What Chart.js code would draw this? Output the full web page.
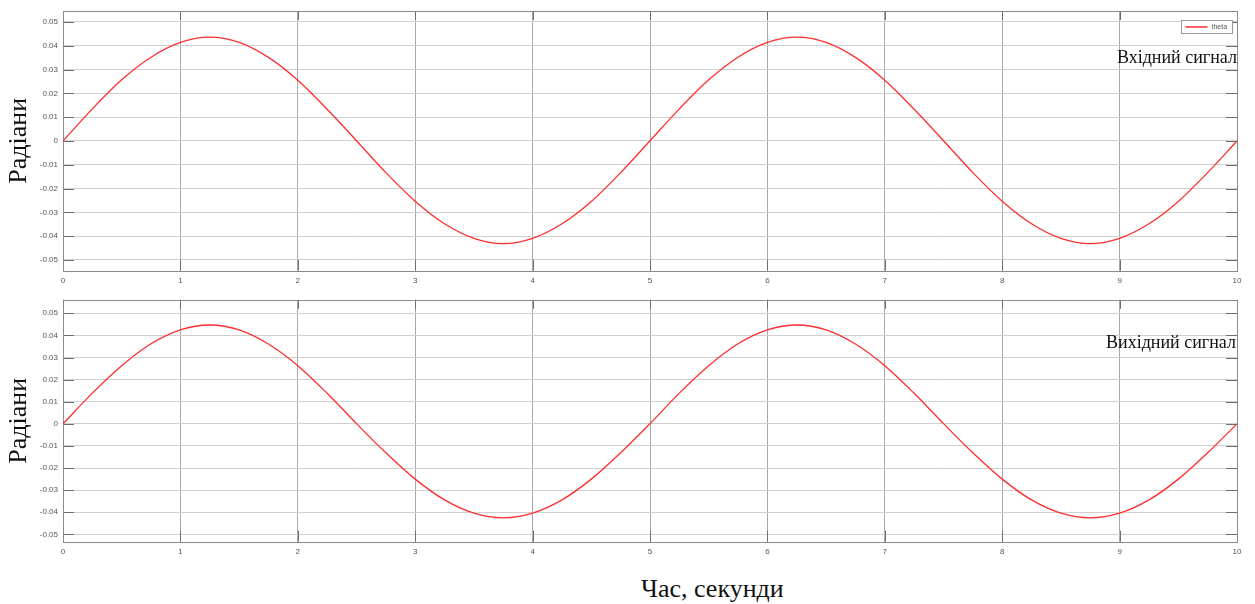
<!DOCTYPE html>
<html>
<head>
<meta charset="utf-8">
<script src="https://cdn.jsdelivr.net/npm/chart.js@4/dist/chart.umd.min.js"></script>
<style>
  body { margin: 0; background: #fff; }
  #wrap { position: relative; width: 1255px; height: 604px; overflow: hidden; background: #fff; }
  canvas { position: absolute; left: 0; }
  .note { position: absolute; font-family: "Liberation Serif", serif; color: #111; white-space: nowrap; }
</style>
</head>
<body>
<div id="wrap">
  <canvas id="topChart" width="1255" height="290" style="top:0;width:1255px;height:290px"></canvas>
  <canvas id="bottomChart" width="1255" height="272" style="top:290px;width:1255px;height:272px"></canvas>
  <div class="note" style="right:18px;top:47px;font-size:18px;line-height:20px">Вхідний сигнал</div>
  <div class="note" style="right:19px;top:332px;font-size:18px;line-height:20px">Вихідний сигнал</div>
  <div class="note" style="left:641px;top:574px;font-size:26px;line-height:30px">Час, секунди</div>
</div>
<script>
// час, с
const times = [0, 0.25, 0.5, 0.75, 1, 1.25, 1.5, 1.75, 2, 2.25, 2.5, 2.75, 3, 3.25, 3.5, 3.75, 4, 4.25, 4.5, 4.75,
    5, 5.25, 5.5, 5.75, 6, 6.25, 6.5, 6.75, 7, 7.25, 7.5, 7.75, 8, 8.25, 8.5, 8.75, 9, 9.25, 9.5, 9.75, 10];

// вхідний сигнал (theta), рад
const inputSignal = [0, 0.0135, 0.0257, 0.0352, 0.0414, 0.0436, 0.0414, 0.0351, 0.0255, 0.0133,
    0.0001, -0.0133, -0.0253, -0.0348, -0.0409, -0.0431, -0.0409, -0.0348, -0.0254, -0.0133,
    0.0001, 0.0135, 0.0257, 0.0352, 0.0414, 0.0436, 0.0414, 0.0351, 0.0255, 0.0133,
    0.0001, -0.0133, -0.0253, -0.0348, -0.0409, -0.0431, -0.0409, -0.0348, -0.0254, -0.0133, 0];

// вихідний сигнал, рад
const outputSignal = [0, 0.0139, 0.0263, 0.0362, 0.0425, 0.0447, 0.0425, 0.0361, 0.0263, 0.0138,
    0.0001, -0.0131, -0.0250, -0.0344, -0.0404, -0.0425, -0.0404, -0.0344, -0.0250, -0.0131,
    0.0001, 0.0139, 0.0263, 0.0362, 0.0425, 0.0447, 0.0425, 0.0361, 0.0263, 0.0138,
    0.0001, -0.0131, -0.0250, -0.0344, -0.0404, -0.0425, -0.0404, -0.0344, -0.0250, -0.0131, 0];

const xTickStep = 1;
const yTickStep = 0.01;
const yLabel = "Радіани";
const seriesName = "theta";

// рамка, внутрішні риски та легенда
const framePlugin = {
    id: "frame",
    beforeDatasetsDraw(chart) {
        const { ctx, chartArea: a, scales } = chart;
        ctx.save();
        ctx.strokeStyle = "#6e6e6e";
        ctx.lineWidth = 1;
        ctx.beginPath();
        scales.y.ticks.forEach((t) => {
            const py = Math.round(scales.y.getPixelForValue(t.value)) + 0.5;
            ctx.moveTo(a.left, py); ctx.lineTo(a.left + 11, py);
            ctx.moveTo(a.right - 11, py); ctx.lineTo(a.right, py);
        });
        scales.x.ticks.forEach((t) => {
            const px = Math.round(scales.x.getPixelForValue(t.value)) + 0.5;
            ctx.moveTo(px, a.bottom); ctx.lineTo(px, a.bottom - 11);
            ctx.moveTo(px, a.top); ctx.lineTo(px, a.top + 9);
        });
        ctx.stroke();
        ctx.strokeStyle = "#8a8a8a";
        ctx.strokeRect(Math.round(a.left) + 0.5, Math.round(a.top) + 0.5, Math.round(a.width), Math.round(a.height));
        ctx.restore();
    },
    afterDraw(chart, args, opts) {
        if (!opts.legend) return;
        const { ctx, chartArea: a } = chart;
        const ds = chart.data.datasets[0];
        const w = 51, h = 13;
        const x0 = Math.round(a.right - 5 - w) + 0.5, y0 = Math.round(a.top + 9) + 0.5;
        ctx.save();
        ctx.fillStyle = "#fff";
        ctx.fillRect(x0, y0, w, h);
        ctx.strokeStyle = "#9a9a9a";
        ctx.strokeRect(x0, y0, w, h);
        ctx.strokeStyle = ds.borderColor;
        ctx.lineWidth = 1.5;
        ctx.beginPath();
        ctx.moveTo(x0 + 4, y0 + h / 2); ctx.lineTo(x0 + 26, y0 + h / 2);
        ctx.stroke();
        ctx.fillStyle = "#555";
        ctx.font = "7px 'Liberation Sans'";
        ctx.textBaseline = "middle";
        ctx.fillText(ds.label, x0 + 30, y0 + h / 2 + 0.5);
        ctx.restore();
    },
};

function makeChart(id, values, yMin, yMax, padTop, xHeight, showLegend) {
    return new Chart(document.getElementById(id), {
        type: "line",
        data: {
            datasets: [
                {
                    label: seriesName,
                    data: times.map((t, i) => ({ x: t, y: values[i] })),
                    borderColor: "#ff2e2e",
                    borderWidth: 1.3,
                    pointRadius: 0,
                    cubicInterpolationMode: "monotone",
                    fill: false,
                },
            ],
        },
        options: {
            responsive: false,
            animation: false,
            layout: { padding: { top: padTop, right: 18, left: 0, bottom: 0 } },
            plugins: {
                legend: { display: false },
                tooltip: { enabled: false },
                frame: { legend: showLegend },
            },
            scales: {
                x: {
                    type: "linear",
                    min: times[0],
                    max: times[times.length - 1],
                    afterFit: (s) => { s.height = xHeight; },
                    ticks: {
                        stepSize: xTickStep,
                        padding: 5,
                        maxRotation: 0,
                        color: "#555",
                        font: { family: "Liberation Sans", size: 8 },
                    },
                    grid: { color: "#a8a8a8", drawTicks: false },
                    border: { display: false },
                },
                y: {
                    type: "linear",
                    min: yMin,
                    max: yMax,
                    afterFit: (s) => { s.width = 63; },
                    ticks: {
                        stepSize: yTickStep,
                        includeBounds: false,
                        padding: 5,
                        color: "#555",
                        font: { family: "Liberation Sans", size: 8 },
                        callback: (v) => String(parseFloat(v.toFixed(2))),
                    },
                    grid: { color: "#d0d0d0", drawTicks: false },
                    border: { display: false },
                    title: {
                        display: true,
                        text: yLabel,
                        color: "#111",
                        font: { family: "Liberation Serif", size: 26 },
                        padding: { top: 4, bottom: 0 },
                    },
                },
            },
        },
        plugins: [framePlugin],
    });
}

makeChart("topChart", inputSignal, -0.0545, 0.0546, 11, 19.3, true);
makeChart("bottomChart", outputSignal, -0.0533, 0.0561, 5.3, 20.3, false);
</script>
</body>
</html>
